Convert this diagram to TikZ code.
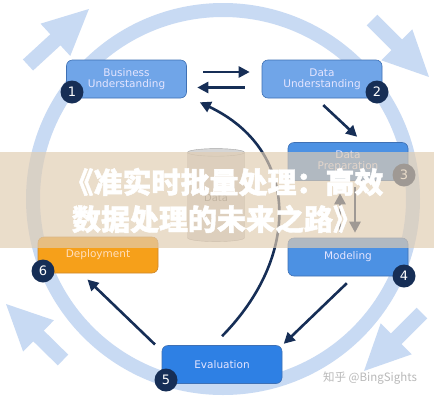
\documentclass[tikz,border=0pt]{standalone}
\usepackage{fontspec}
\setmainfont{DejaVu Sans}
\newfontfamily\cjk{Noto Sans CJK SC}
\newfontfamily\cjktitle{Noto Sans CJK SC}[FakeBold=1.5]
\usepackage{xcolor}
\usetikzlibrary{arrows.meta,shapes.geometric}

\definecolor{ringblue}{RGB}{200,218,243}
\definecolor{navy}{RGB}{22,46,86}
\definecolor{lightbox}{RGB}{112,165,232}
\definecolor{midbox}{RGB}{76,145,227}
\definecolor{deepbox}{RGB}{46,128,228}
\definecolor{boxline}{RGB}{62,112,180}
\definecolor{orangebox}{RGB}{246,160,26}
\definecolor{orangeline}{RGB}{205,135,45}
\definecolor{bannerbeige}{RGB}{225,205,178}
\definecolor{cylgrey}{RGB}{214,214,214}
\definecolor{cylline}{RGB}{165,165,165}

\begin{document}
\begin{tikzpicture}[
  x=1pt, y=-1pt,
  box/.style={draw=boxline, fill=lightbox, rounded corners=6pt, line width=0.6pt,
              minimum width=120pt, minimum height=38pt, align=center,
              text=white!90!blue, font=\fontsize{10.5}{11}\selectfont},
  badge/.style={circle, fill=navy, text=white, minimum size=23pt, inner sep=0pt,
                font=\fontsize{13}{13}\selectfont},
  arr/.style={-{Triangle[length=11pt,width=11pt]}, line width=2.6pt, draw=navy},
  bigarr/.style={-{Triangle[length=47pt,width=40pt]}, line width=15pt, draw=ringblue},
  cyl/.style={cylinder, shape border rotate=90, aspect=0.25, draw=cylline,
              fill=cylgrey, minimum width=57pt, minimum height=93pt,
              text=gray, font=\fontsize{10}{11}\selectfont},
  title/.style={text=white, inner sep=0pt, font=\cjktitle\bfseries\fontsize{29}{29}\selectfont},
  wmark/.style={text=gray!55, inner sep=0pt, font=\cjk\fontsize{11.5}{12}\selectfont}
]
\useasboundingbox (0,0) rectangle (434,400);
\fill[white] (0,0) rectangle (434,400);

% outer cycle
\draw[ringblue, line width=14pt] (223,199) ellipse [x radius=190, y radius=189];
\draw[bigarr] (28,65) -- (90,8);
\draw[bigarr] (372,20) -- (430,78);
\draw[bigarr] (422,313) -- (363,372);
\draw[bigarr] (63,360) -- (5,303);

% phases
\node[box] (bu) at (126.5,79) {Business\\Understanding};
\node[box] (du) at (322,79) {Data\\Understanding};
\node[box, fill=midbox] (dp) at (348,161.5) {Data\\Preparation};
\node[box, fill=midbox] (mo) at (348,257) {Modeling};
\node[box, fill=deepbox] (ev) at (222,364.5) {Evaluation};
\node[box, fill=orangebox, draw=orangeline, text=orange!25!white,
      minimum height=36pt] (de) at (98,255) {Deployment};

\node[cyl] (dt) at (216,198) {Data};

% flow
\draw[arr, shorten <=16.5pt, shorten >=12pt] ([yshift=7pt]bu.east) -- ([yshift=7pt]du.west);
\draw[arr, shorten <=17pt, shorten >=10.5pt] ([yshift=-8.5pt]du.west) -- ([yshift=-8.5pt]bu.east);
\draw[arr, shorten <=10pt, shorten >=8pt] ([xshift=-6pt]du.south) -- ([xshift=15pt]dp.north);
\draw[arr, shorten <=6.5pt, shorten >=5pt] ([xshift=7pt]dp.south) -- ([xshift=7pt]mo.north);
\draw[arr, shorten <=5pt, shorten >=12.5pt] ([xshift=-8pt]mo.north) -- ([xshift=-8pt]dp.south);
\draw[arr, shorten <=10pt, shorten >=2pt] ([xshift=6pt]mo.south) -- (ev.north east);
\draw[arr, shorten <=1pt, shorten >=9pt] ([xshift=-6pt]ev.north west) -- ([xshift=-17pt]de.south);
\draw[arr] ([yshift=9pt]ev.north) .. controls (301,256) and (300,150) .. ([xshift=13pt,yshift=-4pt]bu.south east);

% step numbers
\node[badge] (n1) at (72,92) {1};
\node[badge] (n2) at (377,92) {2};
\node[badge] (n3) at (404,175) {3};
\node[badge] (n4) at (404,276) {4};
\node[badge] (n5) at (166,380) {5};
\node[badge] (n6) at (43,271) {6};

% banner
\fill[bannerbeige, opacity=0.68] (0,152) rectangle (434,248);
\node[title] (t1) at (224,182) {《准实时批量处理：高效};
\node[title] (t2) at (217,219) {数据处理的未来之路》};

\node[wmark] (wm) at (370,378) {知乎 @BingSights};
\end{tikzpicture}
\end{document}
